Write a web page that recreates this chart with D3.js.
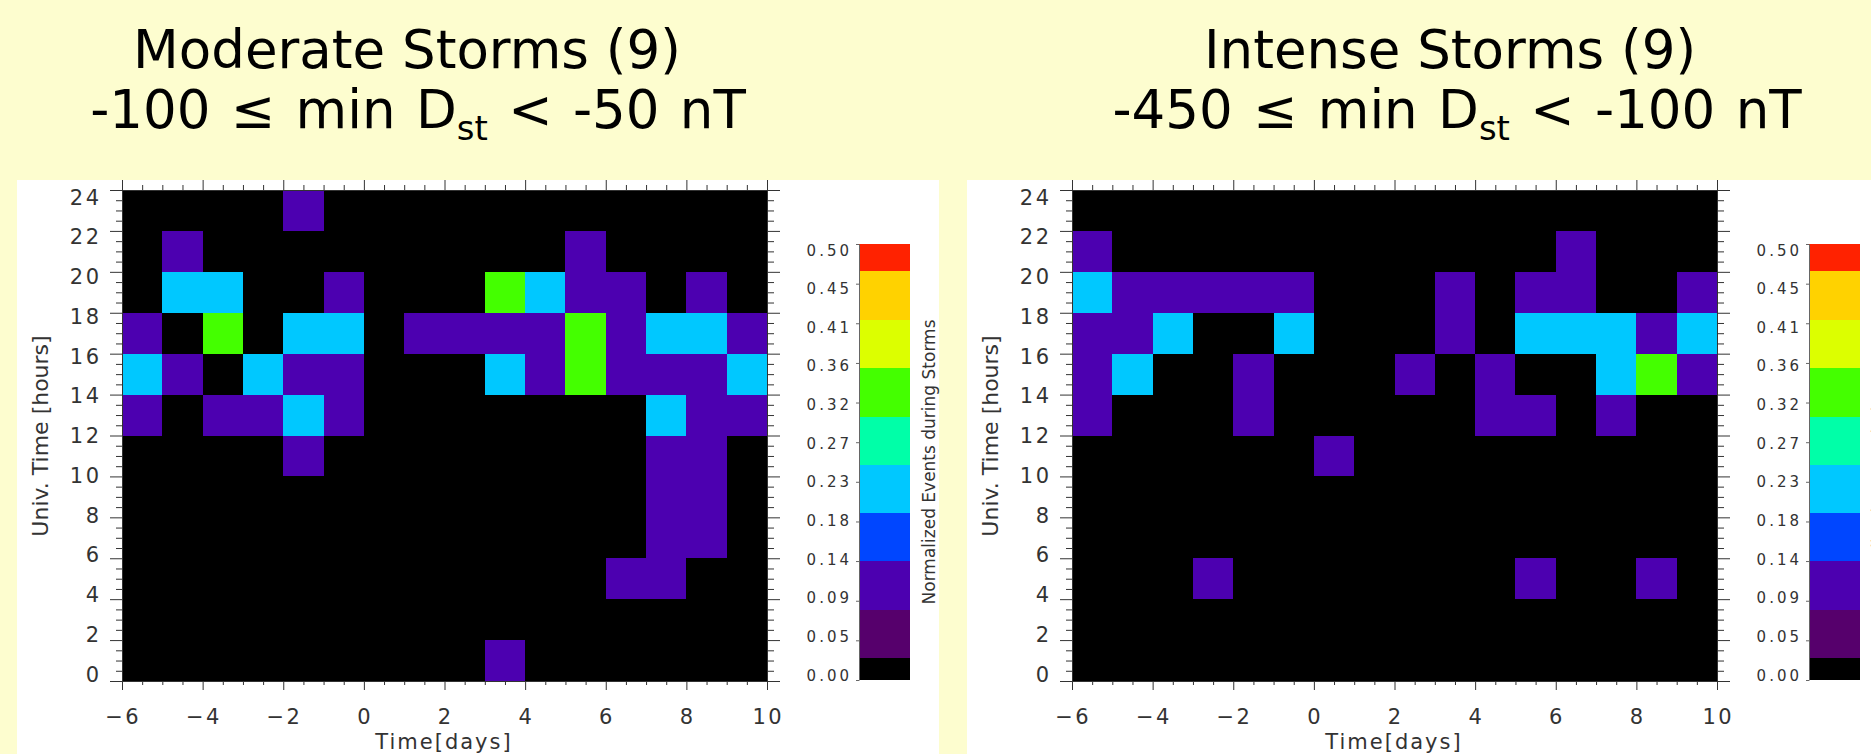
<!DOCTYPE html>
<html>
<head>
<meta charset="utf-8">
<script src="https://cdn.jsdelivr.net/npm/d3@7"></script>
<style>
  body { margin: 0; background: #fdfdcf; }
  svg { display: block; }
  text { font-family: "DejaVu Sans", Verdana, sans-serif; }
</style>
</head>
<body>
<div id="chart"></div>
<script>

// bin starts: days after storm onset, UT hour (rows listed top to bottom)
const dayBins = [-6, -5, -4, -3, -2, -1, 0, 1, 2, 3, 4, 5, 6, 7, 8, 9]
const hourBins = [22, 20, 18, 16, 14, 12, 10, 8, 6, 4, 2, 0]

// events per cell, normalized by number of storms
const moderateStorms = 9
const moderateCounts = [
    [0, 0, 0, 0, 1, 0, 0, 0, 0, 0, 0, 0, 0, 0, 0, 0],
    [0, 1, 0, 0, 0, 0, 0, 0, 0, 0, 0, 1, 0, 0, 0, 0],
    [0, 2, 2, 0, 0, 1, 0, 0, 0, 3, 2, 1, 1, 0, 1, 0],
    [1, 0, 3, 0, 2, 2, 0, 1, 1, 1, 1, 3, 1, 2, 2, 1],
    [2, 1, 0, 2, 1, 1, 0, 0, 0, 2, 1, 3, 1, 1, 1, 2],
    [1, 0, 1, 1, 2, 1, 0, 0, 0, 0, 0, 0, 0, 2, 1, 1],
    [0, 0, 0, 0, 1, 0, 0, 0, 0, 0, 0, 0, 0, 1, 1, 0],
    [0, 0, 0, 0, 0, 0, 0, 0, 0, 0, 0, 0, 0, 1, 1, 0],
    [0, 0, 0, 0, 0, 0, 0, 0, 0, 0, 0, 0, 0, 1, 1, 0],
    [0, 0, 0, 0, 0, 0, 0, 0, 0, 0, 0, 0, 1, 1, 0, 0],
    [0, 0, 0, 0, 0, 0, 0, 0, 0, 0, 0, 0, 0, 0, 0, 0],
    [0, 0, 0, 0, 0, 0, 0, 0, 0, 1, 0, 0, 0, 0, 0, 0]
]

const intenseStorms = 9
const intenseCounts = [
    [0, 0, 0, 0, 0, 0, 0, 0, 0, 0, 0, 0, 0, 0, 0, 0],
    [1, 0, 0, 0, 0, 0, 0, 0, 0, 0, 0, 0, 1, 0, 0, 0],
    [2, 1, 1, 1, 1, 1, 0, 0, 0, 1, 0, 1, 1, 0, 0, 1],
    [1, 1, 2, 0, 0, 2, 0, 0, 0, 1, 0, 2, 2, 2, 1, 2],
    [1, 2, 0, 0, 1, 0, 0, 0, 1, 0, 1, 0, 0, 2, 3, 1],
    [1, 0, 0, 0, 1, 0, 0, 0, 0, 0, 1, 1, 0, 1, 0, 0],
    [0, 0, 0, 0, 0, 0, 1, 0, 0, 0, 0, 0, 0, 0, 0, 0],
    [0, 0, 0, 0, 0, 0, 0, 0, 0, 0, 0, 0, 0, 0, 0, 0],
    [0, 0, 0, 0, 0, 0, 0, 0, 0, 0, 0, 0, 0, 0, 0, 0],
    [0, 0, 0, 1, 0, 0, 0, 0, 0, 0, 0, 1, 0, 0, 1, 0],
    [0, 0, 0, 0, 0, 0, 0, 0, 0, 0, 0, 0, 0, 0, 0, 0],
    [0, 0, 0, 0, 0, 0, 0, 0, 0, 0, 0, 0, 0, 0, 0, 0]
]

const titles = ["Moderate Storms (9)", "Intense Storms (9)"]
const ranges = [["-100 \u2264 min D", "st", " < -50 nT"], ["-450 \u2264 min D", "st", " < -100 nT"]]

// colour table levels
const levelBreaks = [0.025, 0.080, 0.136, 0.191, 0.247, 0.302, 0.358, 0.413, 0.469]
const levelColors = ["#000000", "#56006c", "#4c00b0", "#0046ff", "#00c8ff", "#00ffa8", "#44ff00", "#dcff00", "#ffd200", "#ff2200"]
const cbTicks = [0, 0.0455, 0.0909, 0.1364, 0.1818, 0.2273, 0.2727, 0.3182, 0.3636, 0.4091, 0.4545, 0.5]

const hourMajor = [0, 2, 4, 6, 8, 10, 12, 14, 16, 18, 20, 22, 24]
const dayMajor = [-6, -4, -2, 0, 2, 4, 6, 8, 10]

const width = 1871, height = 754
const panelShift = 950
const titleX = [[407, 418], [1450, 1457]]

const svg = d3.select("#chart").append("svg")
    .attr("width", width)
    .attr("height", height)

svg.append("rect").attr("width", width).attr("height", height).attr("fill", "#fdfdcf")

const x = d3.scaleLinear().domain([-6, 10]).range([122, 767])
const y = d3.scaleLinear().domain([0, 24]).range([681, 190])
// IDL spreads the labels a bit inside the axis ends
const yLab = d3.scaleLinear().domain([0, 24]).range([674, 197])
const cbY = d3.scaleLinear().domain([0, 0.5]).range([680, 244])
const cbLab = d3.scaleLinear().domain([0, 0.5]).range([675, 250])
const color = d3.scaleThreshold().domain(levelBreaks).range(levelColors)

const hourMinor = d3.range(0, 24, 0.5).filter(v => v % 2 !== 0)
const dayMinor = d3.range(-6, 10, 0.5).filter(v => v % 2 !== 0)

const fmtDay = d => d < 0 ? "\u2212" + Math.abs(d) : "" + d

const drawPanel = (counts, storms, i) => {
    const g = svg.append("g").attr("transform", `translate(${i * panelShift},0)`)

    g.append("rect")
        .attr("x", 17).attr("y", 180)
        .attr("width", 922).attr("height", 600)
        .attr("fill", "#fff")

    // title
    const t = svg.append("g").attr("fill", "#000")
    t.append("text")
        .attr("x", titleX[i][0]).attr("y", 68)
        .attr("text-anchor", "middle")
        .attr("font-size", 53)
        .text(titles[i])
    const l2 = t.append("text")
        .attr("x", titleX[i][1]).attr("y", 128)
        .attr("text-anchor", "middle")
        .attr("font-size", 53)
        .attr("word-spacing", 3.5)
    l2.append("tspan").text(ranges[i][0])
    l2.append("tspan").attr("dy", 12).attr("font-size", 34).text(ranges[i][1])
    l2.append("tspan").attr("dy", -12).text(ranges[i][2])

    // cells
    const cells = []
    counts.forEach((row, r) => row.forEach((n, c) => {
        cells.push({ day: dayBins[c], hour: hourBins[r], v: n / storms })
    }))

    g.append("rect")
        .attr("x", x(-6)).attr("y", y(24))
        .attr("width", x(10) - x(-6)).attr("height", y(0) - y(24))
        .attr("fill", "#000")

    g.append("g")
        .attr("shape-rendering", "crispEdges")
        .selectAll("rect")
        .data(cells)
        .join("rect")
        .attr("x", d => Math.round(x(d.day)))
        .attr("y", d => Math.round(y(d.hour + 2)))
        .attr("width", d => Math.round(x(d.day + 1)) - Math.round(x(d.day)))
        .attr("height", d => Math.round(y(d.hour)) - Math.round(y(d.hour + 2)))
        .attr("fill", d => color(d.v))

    // ticks
    const ticks = (axis, scale, vals, size, tr) => g.append("g")
        .attr("transform", tr)
        .call(axis(scale).tickValues(vals).tickSize(size).tickSizeOuter(0).tickFormat(""))
        .call(a => a.selectAll("line,path").attr("stroke", "#333").attr("stroke-width", 1))

    ticks(d3.axisLeft, y, hourMajor, 12, `translate(${x(-6)},0)`)
    ticks(d3.axisLeft, y, hourMinor, 6, `translate(${x(-6)},0)`)
    ticks(d3.axisRight, y, hourMajor, 13, `translate(${x(10)},0)`)
    ticks(d3.axisRight, y, hourMinor, 7, `translate(${x(10)},0)`)
    ticks(d3.axisBottom, x, dayMajor, 9, `translate(0,${y(0)})`)
    ticks(d3.axisBottom, x, dayMinor, 4, `translate(0,${y(0)})`)
    ticks(d3.axisTop, x, dayMajor, 10, `translate(0,${y(24)})`)
    ticks(d3.axisTop, x, dayMinor, 5, `translate(0,${y(24)})`)

    // tick labels
    g.append("g")
        .selectAll("text")
        .data(hourMajor)
        .join("text")
        .attr("x", 101.5)
        .attr("y", d => yLab(d) + 7.6)
        .attr("text-anchor", "end")
        .attr("font-size", 21)
        .attr("letter-spacing", 2.5)
        .attr("fill", "#333")
        .text(d => d)

    g.append("g")
        .selectAll("text")
        .data(dayMajor)
        .join("text")
        .attr("x", d => x(d) + 1.25)
        .attr("y", 724)
        .attr("text-anchor", "middle")
        .attr("font-size", 21)
        .attr("letter-spacing", 2.5)
        .attr("fill", "#333")
        .text(fmtDay)

    g.append("text")
        .attr("x", 444).attr("y", 749)
        .attr("text-anchor", "middle")
        .attr("font-size", 21)
        .attr("letter-spacing", 2)
        .attr("fill", "#333")
        .text("Time[days]")

    g.append("text")
        .attr("transform", "translate(48,436) rotate(-90)")
        .attr("text-anchor", "middle")
        .attr("font-size", 22)
        .attr("fill", "#333")
        .text("Univ. Time [hours]")

    // colour bar
    const bands = d3.pairs([0, ...levelBreaks, 0.5])
    g.append("g")
        .attr("shape-rendering", "crispEdges")
        .selectAll("rect")
        .data(bands)
        .join("rect")
        .attr("x", 859).attr("width", 51)
        .attr("y", d => Math.round(cbY(d[1])))
        .attr("height", d => Math.round(cbY(d[0])) - Math.round(cbY(d[1])))
        .attr("fill", (d, k) => levelColors[k])

    g.append("g")
        .attr("transform", "translate(859,0)")
        .call(d3.axisLeft(cbY).tickValues(cbTicks).tickSize(3).tickSizeOuter(0).tickFormat(""))
        .call(a => a.selectAll("line,path").attr("stroke", "#666"))

    g.append("g")
        .selectAll("text")
        .data(cbTicks)
        .join("text")
        .attr("x", 852)
        .attr("y", d => cbLab(d) + 5.5)
        .attr("text-anchor", "end")
        .attr("font-size", 15)
        .attr("letter-spacing", 3)
        .attr("fill", "#333")
        .text(d => d.toFixed(2))

    g.append("text")
        .attr("transform", "translate(935,462) rotate(-90)")
        .attr("text-anchor", "middle")
        .attr("font-size", 17)
        .attr("fill", "#333")
        .text("Normalized Events during Storms")
}

drawPanel(moderateCounts, moderateStorms, 0)
drawPanel(intenseCounts, intenseStorms, 1)

</script>
</body>
</html>
